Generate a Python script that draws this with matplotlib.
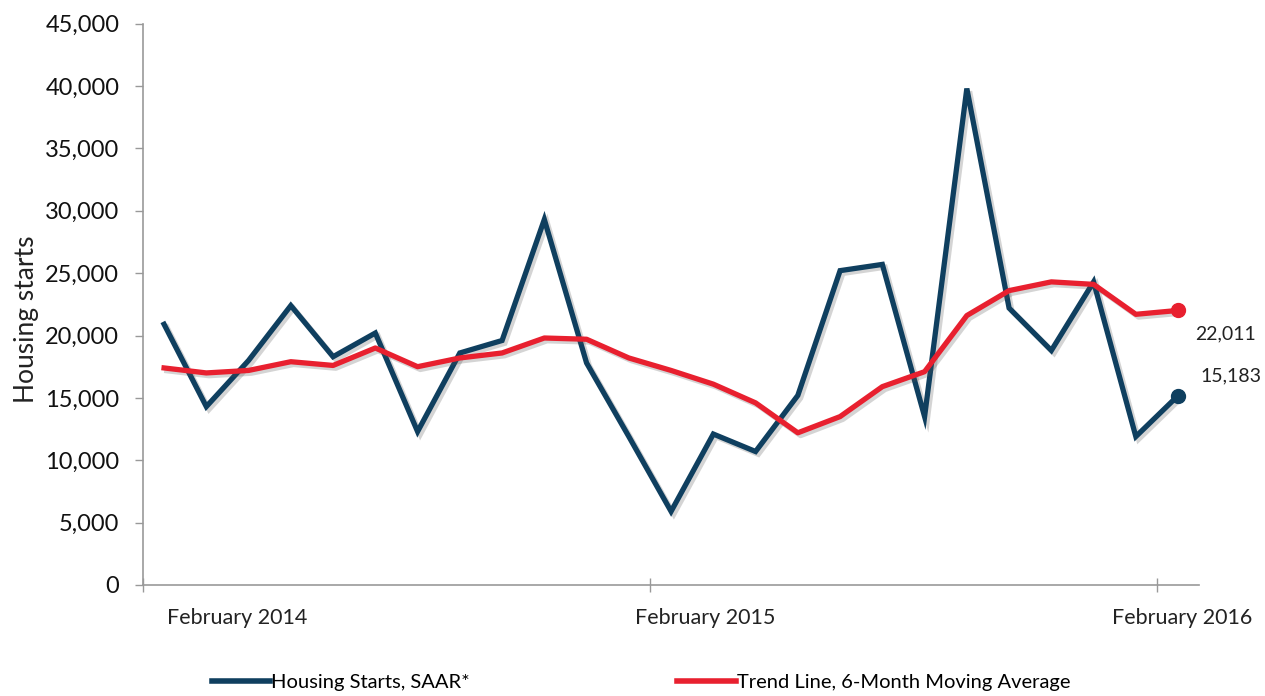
import matplotlib
matplotlib.use("Agg")
import matplotlib.pyplot as plt
import matplotlib.patheffects as pe
from matplotlib import font_manager
from matplotlib.ticker import FuncFormatter
import pandas as pd

# ---- data ----
months = pd.date_range("2014-02-01", periods=25, freq="MS")
housing_starts = [20900, 14300, 18000, 22400, 18300, 20200, 12300, 18600, 19600, 29300,
                  17800, 11900, 5900, 12100, 10700, 15200, 25200, 25700, 13500, 39800,
                  22200, 18800, 24300, 11900, 15183]
trend_6m = [17400, 17000, 17200, 17900, 17600, 19000, 17500, 18200, 18600, 19800,
            19700, 18200, 17200, 16100, 14600, 12200, 13500, 15900, 17100, 21600,
            23600, 24300, 24100, 21700, 22011]
x_labels = ["February 2014", "February 2015", "February 2016"]
y_ticks = [0, 5000, 10000, 15000, 20000, 25000, 30000, 35000, 40000, 45000]
series_names = ["Housing Starts, SAAR*", "Trend Line, 6-Month Moving Average"]

navy = "#0f3f5f"
red = "#e8202f"

available = {f.name for f in font_manager.fontManager.ttflist}
main_font = "Lato" if "Lato" in available else "DejaVu Sans"

fig = plt.figure(figsize=(12.65, 6.96), dpi=100)
ax = fig.add_axes([0.113, 0.1595, 0.835, 0.8065])

x = list(range(len(months)))
shadow = [pe.SimpleLineShadow(offset=(2, -2), alpha=0.25, shadow_color="#555555"), pe.Normal()]

l1, = ax.plot(x, housing_starts, color=navy, lw=3.8, solid_joinstyle="miter",
              path_effects=shadow, label=series_names[0], zorder=3)
l2, = ax.plot(x, trend_6m, color=red, lw=3.8, path_effects=shadow,
              label=series_names[1], zorder=4)
ax.plot(x[-1], housing_starts[-1], "o", color=navy, ms=10, zorder=5)
ax.plot(x[-1], trend_6m[-1], "o", color=red, ms=10, zorder=5)

ax.annotate(f"{trend_6m[-1]:,}", (x[-1], trend_6m[-1]), xytext=(34, -17),
            textcoords="offset points", ha="center", va="center",
            fontsize=14, family=main_font, color="#222222")
ax.annotate(f"{housing_starts[-1]:,}", (x[-1], housing_starts[-1]), xytext=(38, 14),
            textcoords="offset points", ha="center", va="center",
            fontsize=14, family=main_font, color="#222222")

ax.set_xlim(-0.5, 24.5)
ax.set_ylim(0, 45000)
ax.set_yticks(y_ticks)
ax.yaxis.set_major_formatter(FuncFormatter(lambda v, p: f"{int(v):,}"))
for lab in ax.get_yticklabels():
    lab.set_family(main_font)
    lab.set_fontsize(17)
    lab.set_color("#111111")

ax.set_xticks([-0.5, 11.5, 23.5])
ax.set_xticklabels([])
ax.tick_params(axis="x", direction="inout", length=10, color="#999999", width=1)
ax.tick_params(axis="y", direction="out", length=6, color="#999999", width=1, pad=11)

for s in ["top", "right"]:
    ax.spines[s].set_visible(False)
for s in ["left", "bottom"]:
    ax.spines[s].set_color("#999999")
    ax.spines[s].set_linewidth(1.2)

label_pos = [1.74, 12.8, 24.1]
for p, t in zip(label_pos, x_labels):
    ax.text(p, -0.059, t, transform=ax.get_xaxis_transform(), ha="center", va="center",
            fontsize=15.5, family=main_font, color="#222222")

fig.text(0.021, 0.542, "Housing starts", rotation=90, ha="center", va="center",
         fontsize=19, family=main_font, color="#222222")

leg = fig.legend(handles=[l1, l2], labels=series_names, ncol=2, loc="center left",
                 bbox_to_anchor=(0.153, 0.02), frameon=False,
                 prop={"family": main_font, "size": 14.5},
                 handlelength=2.9, handletextpad=0.05, columnspacing=10.3)
for h in leg.legend_handles:
    h.set_path_effects([])
    h.set_linewidth(4)

fig.savefig("out.png", dpi=100)
